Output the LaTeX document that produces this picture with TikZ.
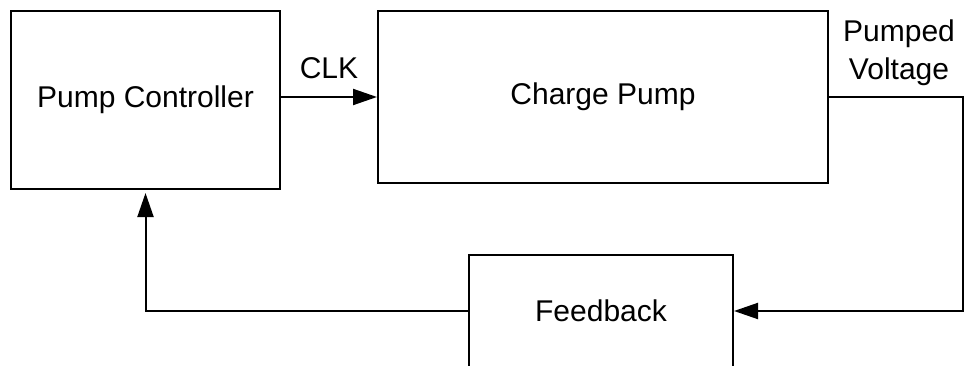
\documentclass[tikz,border=0pt]{standalone}
\usepackage{fontspec}
\setmainfont{Liberation Sans}
\usetikzlibrary{positioning,arrows.meta}

\begin{document}
\begin{tikzpicture}[x=1pt,y=-1pt,line width=2pt,
	font=\fontsize{30}{38}\selectfont,
	block/.style={draw,rectangle,inner sep=0pt},
	wire/.style={-{Triangle[length=24pt,width=16pt]}}]
	\useasboundingbox (0,0) rectangle (971,366);
	% blocks
	\node[block,minimum width=269pt,minimum height=178pt] (pc) at (145.5,100) {Pump Controller};
	\node[block,minimum width=450pt,minimum height=172pt] (cp) at (603,97) {Charge Pump};
	\node[block,minimum width=264pt,minimum height=112pt] (fb) at (601,311) {Feedback};
	% loop
	\coordinate (vout) at (963,97);
	\draw[wire] (pc.east |- cp.west) -- node[above=14pt] {CLK} (cp.west);
	\draw[wire] (cp.east) -- (vout) |- (fb.east);
	\draw[wire,shorten >=3pt] (fb.west) -| (pc.south);
	\node[align=center] (pv) at (899,53) {Pumped\\Voltage};
\end{tikzpicture}
\end{document}
